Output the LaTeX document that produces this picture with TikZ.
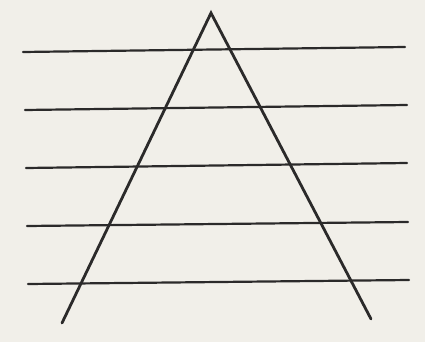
\documentclass[tikz,border=0pt]{standalone}
\usepackage{xcolor}
\usepackage{tikz}
\usetikzlibrary{positioning, calc}

\definecolor{paper}{HTML}{F1EFE9}
\definecolor{ink}{HTML}{2B2A2A}

\begin{document}
\begin{tikzpicture}[
    x=1pt, y=-1pt,
    % ---- Triangle legs ----
    legline/.style={draw=ink, line width=2.8pt, line cap=round, line join=miter},
    % ---- Horizontal lines ----
    crossline/.style={draw=ink, line width=2.2pt, line cap=round}
]

% ---------- Background ----------
\fill[paper] (0,0) rectangle (425,342);
\useasboundingbox (0,0) rectangle (425,342);

% ---------- Horizontal lines ----------
\foreach \i/\xl/\yl/\xr/\yr in {1/23/52/405/47, 2/25/110/407/105,
    3/26/168/407/163, 4/27/226/408/222, 5/28/284/409/280} {
    \coordinate (L\i) at (\xl,\yl);
    \coordinate (R\i) at (\xr,\yr);
    \draw[crossline] (L\i) -- (R\i);
}

% ---------- Triangle ----------
\coordinate (Apex) at (211,13);
\coordinate (FootL) at (62,323);
\coordinate (FootR) at (371,319);

\draw[legline] (FootL) -- (Apex) -- (FootR);

\end{tikzpicture}
\end{document}
